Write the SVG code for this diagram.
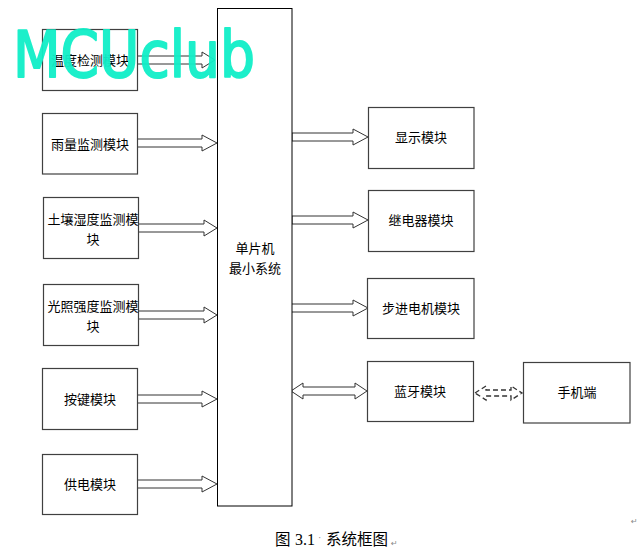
<svg xmlns="http://www.w3.org/2000/svg" width="643" height="555" viewBox="0 0 643 555">
<style>
.box{fill:#fff;stroke:#404040;stroke-width:1.2}
.core{fill:#fff;stroke:#000;stroke-width:1}
.t{font-family:"Noto Sans CJK SC","Noto Sans",sans-serif;font-size:13px;fill:#000;text-anchor:middle}
.arr{fill:#fff;stroke:#333;stroke-width:1}
.dash{fill:#fff;stroke:#333;stroke-width:1.3;stroke-dasharray:5 3}
.mark{font-family:"DejaVu Sans",sans-serif;font-size:8px;fill:#888}
</style>
<rect width="643" height="555" fill="#fff"/>
<g id="connectors">
<path class="arr" d="M137,56 L202,56 L202,52 L215,60 L202,68 L202,64 L137,64 Z"/>
<path class="arr" d="M137,139 L202,139 L202,135 L217,143 L202,151 L202,147 L137,147 Z"/>
<path class="arr" d="M137,224 L204,224 L204,220 L217,228 L204,236 L204,232 L137,232 Z"/>
<path class="arr" d="M137,311 L204,311 L204,307 L217,315 L204,323 L204,319 L137,319 Z"/>
<path class="arr" d="M137,395 L202,395 L202,391 L217,399 L202,407 L202,403 L137,403 Z"/>
<path class="arr" d="M137,480 L202,480 L202,476 L217,484 L202,492 L202,488 L137,488 Z"/>
<path class="arr" d="M292,133 L353,133 L353,129 L368,137 L353,145 L353,141 L292,141 Z"/>
<path class="arr" d="M292,216 L353,216 L353,212 L368,220 L353,228 L353,224 L292,224 Z"/>
<path class="arr" d="M291,304 L353,304 L353,300 L368,308 L353,316 L353,312 L291,312 Z"/>
<path class="arr" d="M291,391 L303,383 L303,387 L355,387 L355,383 L367,391 L355,399 L355,395 L303,395 L303,399 Z"/>
<path class="dash" d="M475,393 L486,386 L486,390 L511,390 L511,386 L522,393 L511,400 L511,396 L486,396 L486,400 Z"/>
</g>
<g id="core">
<rect class="core" x="217.5" y="8.5" width="74.5" height="497.5"/>
<text class="t" x="255" y="253">单片机</text>
<text class="t" x="255" y="273">最小系统</text>
</g>
<g id="n-temp"><rect class="box" x="42.5" y="29.5" width="95" height="61"/><text class="t" x="90" y="65">温度检测模块</text></g>
<g id="n-rain"><rect class="box" x="42.5" y="113.5" width="95" height="60.5"/><text class="t" x="90" y="149">雨量监测模块</text></g>
<g id="n-soil"><rect class="box" x="43.5" y="197.5" width="95" height="61"/><text class="t" x="93" y="224">土壤湿度监测模</text><text class="t" x="93" y="244">块</text></g>
<g id="n-light"><rect class="box" x="43.5" y="284.5" width="95" height="61"/><text class="t" x="93" y="311">光照强度监测模</text><text class="t" x="93" y="331">块</text></g>
<g id="n-key"><rect class="box" x="42.5" y="368.5" width="95" height="61"/><text class="t" x="90" y="404">按键模块</text></g>
<g id="n-power"><rect class="box" x="42.5" y="454.5" width="95" height="60"/><text class="t" x="90" y="489">供电模块</text></g>
<g id="n-display"><rect class="box" x="368.5" y="107.5" width="105.5" height="61"/><text class="t" x="421" y="142">显示模块</text></g>
<g id="n-relay"><rect class="box" x="368.5" y="190.5" width="105.5" height="61"/><text class="t" x="421" y="225">继电器模块</text></g>
<g id="n-stepper"><rect class="box" x="367.5" y="278.5" width="106.5" height="60"/><text class="t" x="421" y="313">步进电机模块</text></g>
<g id="n-bt"><rect class="box" x="367.5" y="361.5" width="106" height="60"/><text class="t" x="420" y="396">蓝牙模块</text></g>
<g id="n-phone"><rect class="box" x="523.5" y="362.5" width="106.5" height="60.5"/><text class="t" x="577" y="397">手机端</text></g>
<g id="caption">
<text x="275" y="545" font-family="'Noto Sans CJK SC',sans-serif" font-size="15.5px" fill="#000">图</text>
<text x="295" y="545" font-family="'Liberation Serif',serif" font-size="16px" fill="#000">3.1</text>
<text x="318" y="541" font-family="'Liberation Serif',serif" font-size="10px" fill="#888">·</text>
<text x="326" y="545" font-family="'Noto Sans CJK SC',sans-serif" font-size="15.5px" fill="#000">系统框图</text>
<text class="mark" x="391" y="546">↵</text>
<text class="mark" x="631" y="524">↵</text>
</g>
<g id="watermark">
<text x="13" y="77" font-family="'DejaVu Sans',sans-serif" font-size="64px" textLength="242" lengthAdjust="spacingAndGlyphs" fill="#10EFC8" stroke="#10EFC8" stroke-width="2" stroke-linejoin="round" opacity="0.95">MCUclub</text>
</g>
</svg>
